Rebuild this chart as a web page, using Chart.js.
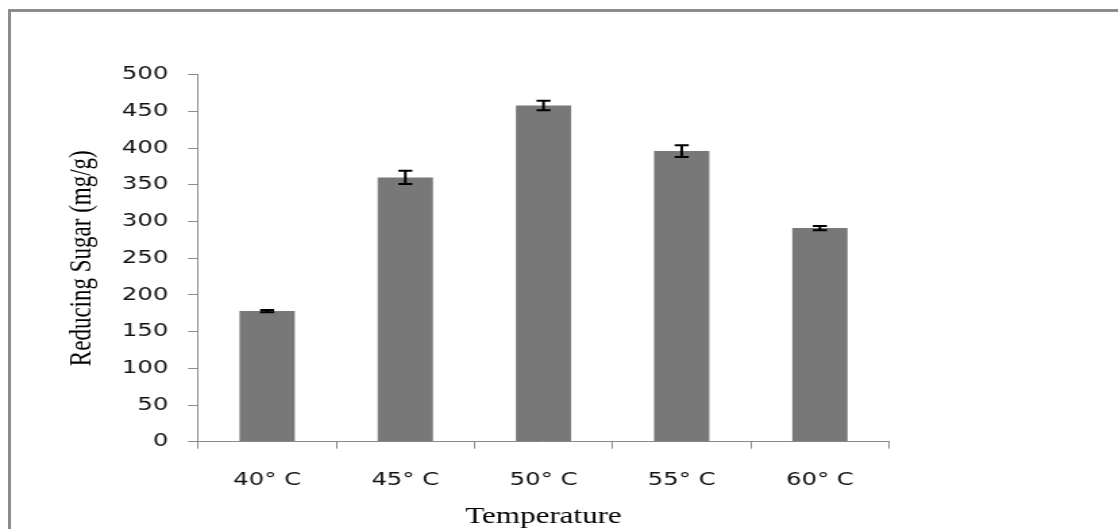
<!DOCTYPE html>
<html><head><meta charset="utf-8">
<script src="https://cdn.jsdelivr.net/npm/chart.js@4/dist/chart.umd.min.js"></script>
<style>
html,body{margin:0;padding:0;background:#fff;overflow:hidden;width:1118px;height:529px;}
#frame{position:absolute;left:8px;top:9px;width:1300px;height:700px;border:3px solid #8c8c8c;}
#wrap{position:absolute;left:0;top:0;width:828px;height:529px;transform:scaleX(1.35);transform-origin:0 0;}
</style></head><body>
<div id="frame"></div>
<div id="wrap"><canvas id="c" width="828" height="529"></canvas></div>
<script>
const categories = ['40° C', '45° C', '50° C', '55° C', '60° C'];
const reducingSugar = [178, 360, 458, 396, 291];
const errorSD = [1.5, 9, 6.5, 8, 3];
const yMin = 0, yMax = 500, yStep = 50;
const xTitle = 'Temperature';
const yTitle = 'Reducing Sugar (mg/g)';

const errorBars = {
  id: 'errorBars',
  afterDatasetsDraw(chart) {
    const ctx = chart.ctx, y = chart.scales.y;
    const meta = chart.getDatasetMeta(0);
    ctx.save();
    ctx.strokeStyle = '#000';
    ctx.lineWidth = 2;
    meta.data.forEach((bar, i) => {
      const v = reducingSugar[i], e = errorSD[i];
      const yt = y.getPixelForValue(v + e), yb = y.getPixelForValue(v - e);
      const x = bar.x, w = 5.2;
      ctx.beginPath();
      ctx.moveTo(x, yt); ctx.lineTo(x, yb);
      ctx.moveTo(x - w, yt); ctx.lineTo(x + w, yt);
      ctx.moveTo(x - w, yb); ctx.lineTo(x + w, yb);
      ctx.stroke();
    });
    ctx.restore();
  }
};

new Chart(document.getElementById('c'), {
  type: 'bar',
  data: {
    labels: categories,
    datasets: [{
      data: reducingSugar,
      backgroundColor: '#787878',
      borderWidth: 0,
      barPercentage: 0.4,
      categoryPercentage: 1
    }]
  },
  options: {
    responsive: false,
    animation: false,
    devicePixelRatio: 1,
    layout: { padding: { left: 0, top: 74.7, right: 169.5, bottom: 0 } },
    plugins: { legend: { display: false }, tooltip: { enabled: false } },
    scales: {
      x: {
        grid: { drawOnChartArea: false, tickLength: 7, color: '#8a8a8a', offset: true },
        border: { color: '#8a8a8a', width: 1 },
        ticks: { color: '#111', padding: 20.4, font: { family: 'DejaVu Sans', size: 18 } },
        title: { display: true, text: xTitle, color: '#000', padding: { top: 0, bottom: 1 },
                 font: { family: 'Liberation Serif', size: 23, lineHeight: 1 } },
        afterFit(s) { s.height = 87.3; s.paddingLeft = 0; s.paddingRight = 0; }
      },
      y: {
        min: yMin, max: yMax,
        grid: { drawOnChartArea: false, tickLength: 7.4, color: '#8a8a8a' },
        border: { color: '#8a8a8a', width: 1 },
        ticks: { stepSize: yStep, color: '#111', padding: 14.6, font: { family: 'DejaVu Sans', size: 18 } },
        title: { display: true, text: yTitle, color: '#000', padding: { top: 49.3, bottom: 0 },
                 font: { family: 'Liberation Serif', size: 23, lineHeight: 1 } },
        afterFit(s) { s.width = 146.7; s.paddingTop = 0; s.paddingBottom = 0; }
      }
    }
  },
  plugins: [errorBars]
});
</script>
</body></html>
